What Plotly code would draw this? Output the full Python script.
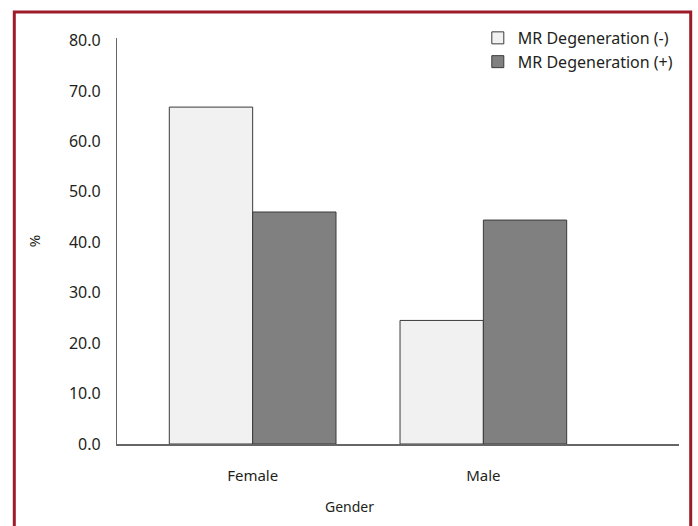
import plotly.graph_objects as go

# Share of patients by gender, split by MR degeneration status
genders = ["Female", "Male"]
mr_negative = [66.8, 24.5]
mr_positive = [46.0, 44.4]
y_ticks = [0, 10, 20, 30, 40, 50, 60, 70, 80]

FONT = "Noto Sans"
AXIS_GREY = "#666666"

fig = go.Figure()
fig.add_trace(go.Bar(
    name="MR Degeneration (-)", x=genders, y=mr_negative,
    marker=dict(color="#f1f1f1", line=dict(color="#3a3a3a", width=1)),
    legendgroup="neg",
))
fig.add_trace(go.Bar(
    name="MR Degeneration (+)", x=genders, y=mr_positive,
    marker=dict(color="#808080", line=dict(color="#3a3a3a", width=1)),
    legendgroup="pos",
))

fig.update_layout(
    width=698, height=526,
    margin=dict(l=117, r=19, t=38, b=82),
    paper_bgcolor="white", plot_bgcolor="white",
    barmode="group", bargap=0.2775, bargroupgap=0,
    font=dict(family=FONT, size=15, color="#231f20"),
    showlegend=True,
    legend=dict(
        x=0.642, xanchor="left", y=1.042, yanchor="top",
        bgcolor="rgba(0,0,0,0)", font=dict(size=16, family=FONT),
        tracegroupgap=6, traceorder="normal",
    ),
    xaxis=dict(
        type="category", range=[-0.588, 1.848],
        showline=True, linecolor=AXIS_GREY, linewidth=1.5,
        showgrid=False, zeroline=False,
        ticks="outside", ticklen=17, tickcolor="rgba(0,0,0,0)",
        tickfont=dict(size=15),
    ),
    yaxis=dict(
        range=[0, 80.5], tickvals=y_ticks,
        tickformat=".1f",
        showline=True, linecolor=AXIS_GREY, linewidth=1.2,
        showgrid=False, zeroline=False,
        ticks="outside", ticklen=12, tickcolor="rgba(0,0,0,0)",
        tickfont=dict(size=16),
        title=dict(text="%", font=dict(size=15), standoff=24),
    ),
)

# Axis title for the categories, centered on the page
fig.add_annotation(
    text="Gender", xref="paper", yref="paper",
    x=(349 - 117) / 562, y=-(506 - 443.5) / 406,
    xanchor="center", yanchor="middle", showarrow=False,
    font=dict(size=14, family=FONT, color="#231f20"),
)

# Dark red frame around the figure
fig.add_shape(
    type="rect", xref="paper", yref="paper",
    x0=(14.3 - 117) / 562, x1=(690.7 - 117) / 562,
    y0=-0.3, y1=(443.5 - 11.5) / 406,
    line=dict(color="#9e1c2a", width=3), fillcolor="rgba(0,0,0,0)",
    layer="above",
)

fig.write_html("out.html")
